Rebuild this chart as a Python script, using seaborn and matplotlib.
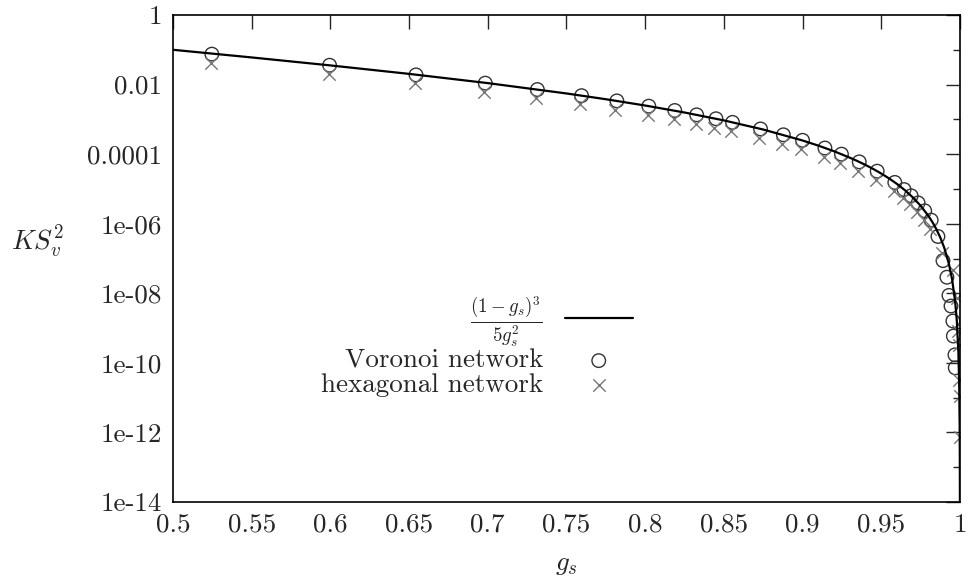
import numpy as np
import pandas as pd
import matplotlib
matplotlib.use("Agg")
import matplotlib.pyplot as plt
import seaborn as sns

# curve (1-g)^3 / (5 g^2), tabulated
curve_g = [0.5, 0.55, 0.6, 0.65, 0.7, 0.75, 0.775, 0.8, 0.825, 0.85, 0.875,
           0.9, 0.91, 0.92, 0.93, 0.935, 0.94, 0.945, 0.95, 0.955, 0.96,
           0.965, 0.97, 0.975, 0.98, 0.9825, 0.985, 0.9875, 0.99, 0.993,
           0.995, 0.997, 0.998, 0.999, 0.9995, 0.9998, 0.9999, 0.99995, 0.99999]
curve_ks = [0.1, 0.060248, 0.035556, 0.020296, 0.011020, 0.0055556, 0.0037930,
            0.0025, 0.0015749, 0.00093426, 0.0005102, 0.00024691, 0.00017606,
            0.00012098, 7.9316e-5, 6.2827e-5, 4.8891e-5, 3.7261e-5, 2.7701e-5,
            1.9983e-5, 1.3889e-5, 9.2084e-6, 5.7392e-6, 3.2873e-6, 1.6660e-6,
            1.1104e-6, 6.9572e-7, 4.0058e-7, 2.0406e-7, 6.957e-8, 2.5252e-8,
            5.4326e-9, 1.6064e-9, 2.0040e-10, 2.5025e-11, 1.6006e-12,
            2.0004e-13, 2.5e-14, 2.0e-16]

# Voronoi network
voronoi_g = [0.5247, 0.5995, 0.6544, 0.6984, 0.7315, 0.7596, 0.782, 0.8023,
             0.8188, 0.8327, 0.845, 0.8555, 0.8733, 0.8878, 0.9, 0.9142,
             0.9247, 0.936, 0.9474, 0.9586, 0.9645, 0.969, 0.9734, 0.9776,
             0.9817, 0.986, 0.9892, 0.9917, 0.993, 0.9943, 0.9955, 0.9958,
             0.9968, 0.997]
voronoi_ks = [0.075, 0.036, 0.019, 0.011, 0.0072, 0.0048, 0.0034, 0.0024,
              0.0018, 0.00135, 0.00104, 0.00082, 0.00053, 0.00036, 0.00025,
              0.00015, 1.0e-4, 6.0e-5, 3.24e-5, 1.54e-5, 9.6e-6, 6.35e-6,
              3.97e-6, 2.35e-6, 1.27e-6, 4.3e-7, 8.7e-8, 2.9e-8, 8.7e-9,
              4.3e-9, 1.6e-9, 5.9e-10, 1.7e-10, 7.2e-11]

# hexagonal network
hex_g = [0.524, 0.599, 0.6535, 0.6975, 0.7305, 0.7585, 0.781, 0.8015, 0.818,
         0.832, 0.844, 0.8545, 0.8725, 0.887, 0.899, 0.9135, 0.924, 0.935,
         0.9465, 0.958, 0.964, 0.9685, 0.973, 0.9772, 0.9812, 0.9886, 0.9955,
         0.9978, 0.9985, 0.9992, 0.9995, 0.9997, 0.9999]
hex_ks = [0.042, 0.020, 0.0108, 0.0062, 0.0040, 0.0027, 0.0019, 0.00135,
          0.00100, 0.00076, 0.00058, 0.00046, 0.00030, 0.00020, 0.00014,
          8.4e-5, 5.6e-5, 3.3e-5, 1.8e-5, 8.6e-6, 5.4e-6, 3.6e-6, 2.2e-6,
          1.3e-6, 7.1e-7, 1.4e-7, 4.6e-8, 7.2e-9, 8.1e-10, 3.2e-10, 3.3e-11,
          1.1e-11, 7.2e-13]

x_ticks = [0.5, 0.55, 0.6, 0.65, 0.7, 0.75, 0.8, 0.85, 0.9, 0.95, 1.0]
x_labels = ["0.5", "0.55", "0.6", "0.65", "0.7", "0.75", "0.8", "0.85",
            "0.9", "0.95", "1"]
y_ticks = [1, 1e-2, 1e-4, 1e-6, 1e-8, 1e-10, 1e-12, 1e-14]
y_labels = ["1", "0.01", "0.0001", "1e-06", "1e-08", "1e-10", "1e-12", "1e-14"]
y_minor = [1e-1, 1e-3, 1e-5, 1e-7, 1e-9, 1e-11, 1e-13]

sns.set_style("white")
plt.rcParams.update({
    "font.family": ["cmr10", "DejaVu Serif"],
    "mathtext.fontset": "cm",
    "axes.unicode_minus": False,
    "font.size": 19.5,
    "xtick.direction": "in",
    "ytick.direction": "in",
})

fig = plt.figure(figsize=(9.74, 5.86), dpi=100)
ax = fig.add_axes([0.1776, 0.1433, 0.8080, 0.8311])

curve = pd.DataFrame({"g": curve_g, "ks": curve_ks})
vor = pd.DataFrame({"g": voronoi_g, "ks": voronoi_ks})
hexa = pd.DataFrame({"g": hex_g, "ks": hex_ks})

sns.lineplot(data=curve, x="g", y="ks", color="black", linewidth=1.6,
             estimator=None, sort=False, ax=ax,
             label=r"$\frac{(1-g_s)^3}{5g_s^2}$")
sns.scatterplot(data=vor, x="g", y="ks", marker="o", s=95,
                facecolors="none", edgecolor="#333333", linewidth=1.0,
                ax=ax, label="Voronoi network")
sns.scatterplot(data=hexa, x="g", y="ks", marker="x", s=80,
                color="#777777", linewidth=1.0, ax=ax,
                label="hexagonal network")

ax.set_yscale("log")
ax.set_xlim(0.5, 1.0)
ax.set_ylim(1e-14, 1)
ax.set_xticks(x_ticks)
ax.set_xticklabels(x_labels)
ax.set_yticks(y_ticks)
ax.set_yticklabels(y_labels)
ax.set_yticks(y_minor, minor=True)
ax.set_yticklabels([], minor=True)
ax.tick_params(axis="both", which="major", length=10, width=1.0,
               top=True, right=True, pad=8)
ax.tick_params(axis="y", which="minor", length=5, width=1.0, right=True)
ax.tick_params(axis="x", which="minor", bottom=False, top=False)
for sp in ax.spines.values():
    sp.set_linewidth(1.2)
    sp.set_color("black")

ax.set_xlabel(r"$g_s$")
ax.xaxis.set_label_coords(0.5, -0.105)
ax.set_ylabel(r"$KS_v^2$", rotation=0, ha="center", va="center")
ax.yaxis.set_label_coords(-0.172, 0.535)

ax.legend(loc="upper right", bbox_to_anchor=(0.584, 0.427), frameon=False,
          markerfirst=False, handlelength=2.5, handletextpad=0.8,
          labelspacing=0.0, borderpad=0, borderaxespad=0)

fig.savefig("out.png", dpi=100)
